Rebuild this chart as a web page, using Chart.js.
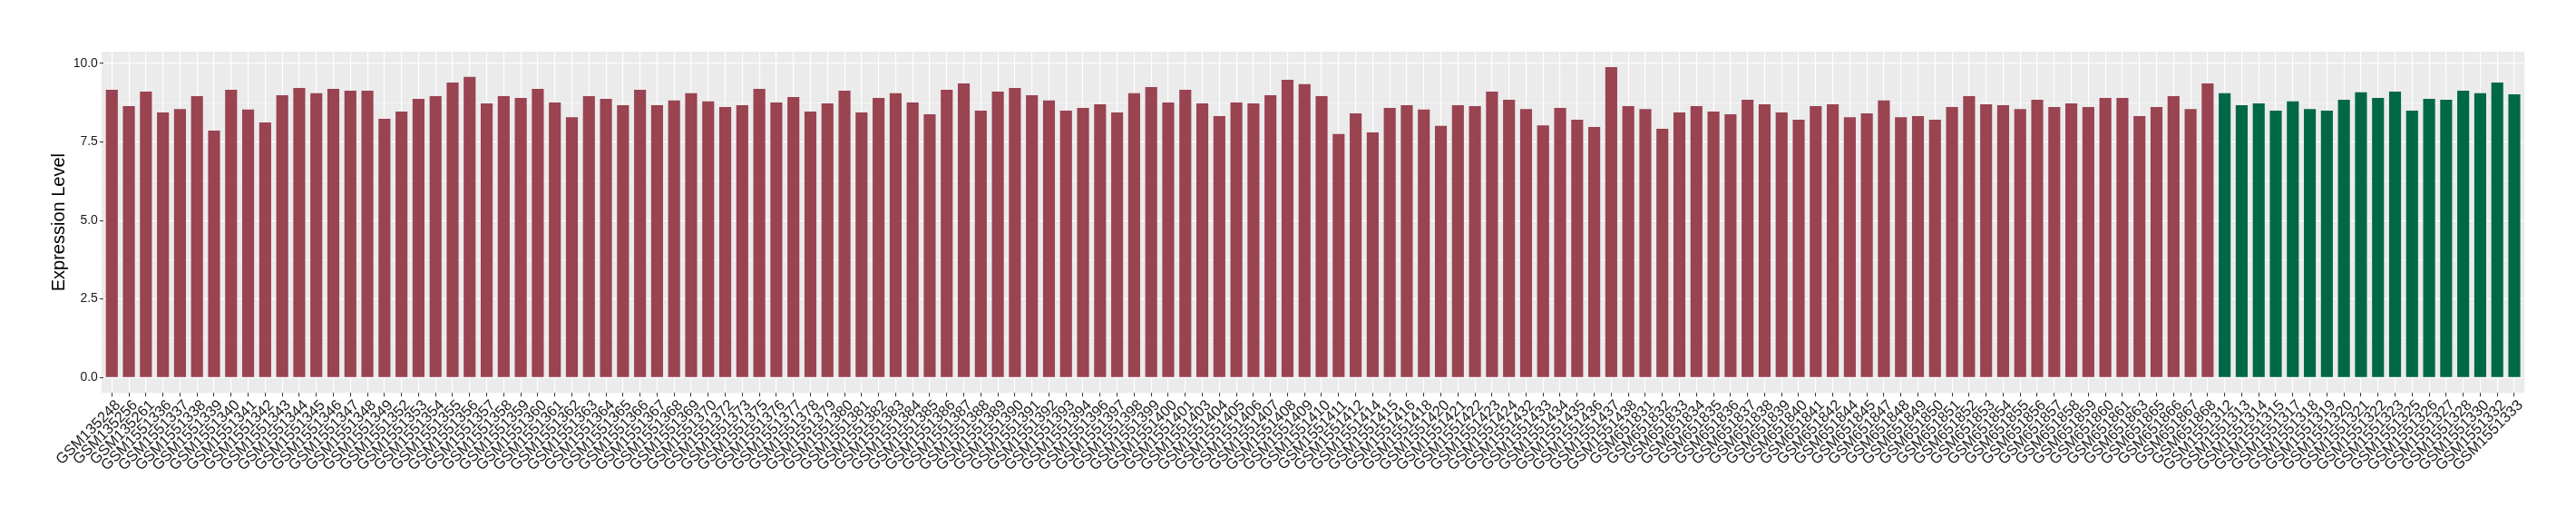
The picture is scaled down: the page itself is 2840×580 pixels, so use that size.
<!DOCTYPE html>
<html>
<head>
<meta charset="utf-8">
<script src="https://cdn.jsdelivr.net/npm/chart.js@4.4.1/dist/chart.umd.min.js"></script>
<style>
  html, body { margin: 0; padding: 0; background: #ffffff; }
  #wrap { width: 2840px; height: 580px; }
</style>
</head>
<body>
<div id="wrap"><canvas id="myChart" width="2840" height="580"></canvas></div>
<script>
/* Data */
var tumorLabels = [
  'GSM135248', 'GSM135256', 'GSM135261', 'GSM1551336', 'GSM1551337', 'GSM1551338', 'GSM1551339', 'GSM1551340',
  'GSM1551341', 'GSM1551342', 'GSM1551343', 'GSM1551344', 'GSM1551345', 'GSM1551346', 'GSM1551347', 'GSM1551348',
  'GSM1551349', 'GSM1551352', 'GSM1551353', 'GSM1551354', 'GSM1551355', 'GSM1551356', 'GSM1551357', 'GSM1551358',
  'GSM1551359', 'GSM1551360', 'GSM1551361', 'GSM1551362', 'GSM1551363', 'GSM1551364', 'GSM1551365', 'GSM1551366',
  'GSM1551367', 'GSM1551368', 'GSM1551369', 'GSM1551370', 'GSM1551372', 'GSM1551373', 'GSM1551375', 'GSM1551376',
  'GSM1551377', 'GSM1551378', 'GSM1551379', 'GSM1551380', 'GSM1551381', 'GSM1551382', 'GSM1551383', 'GSM1551384',
  'GSM1551385', 'GSM1551386', 'GSM1551387', 'GSM1551388', 'GSM1551389', 'GSM1551390', 'GSM1551391', 'GSM1551392',
  'GSM1551393', 'GSM1551394', 'GSM1551396', 'GSM1551397', 'GSM1551398', 'GSM1551399', 'GSM1551400', 'GSM1551401',
  'GSM1551403', 'GSM1551404', 'GSM1551405', 'GSM1551406', 'GSM1551407', 'GSM1551408', 'GSM1551409', 'GSM1551410',
  'GSM1551411', 'GSM1551412', 'GSM1551414', 'GSM1551415', 'GSM1551416', 'GSM1551418', 'GSM1551420', 'GSM1551421',
  'GSM1551422', 'GSM1551423', 'GSM1551424', 'GSM1551432', 'GSM1551433', 'GSM1551434', 'GSM1551435', 'GSM1551436',
  'GSM1551437', 'GSM1551438', 'GSM651831', 'GSM651832', 'GSM651833', 'GSM651834', 'GSM651835', 'GSM651836',
  'GSM651837', 'GSM651838', 'GSM651839', 'GSM651840', 'GSM651841', 'GSM651842', 'GSM651844', 'GSM651845',
  'GSM651847', 'GSM651848', 'GSM651849', 'GSM651850', 'GSM651851', 'GSM651852', 'GSM651853', 'GSM651854',
  'GSM651855', 'GSM651856', 'GSM651857', 'GSM651858', 'GSM651859', 'GSM651860', 'GSM651861', 'GSM651863',
  'GSM651865', 'GSM651866', 'GSM651867', 'GSM651868'
];
var tumorValues = [
  9.16, 8.64, 9.10, 8.44, 8.55, 8.96, 7.86, 9.16,
  8.53, 8.12, 8.99, 9.22, 9.05, 9.19, 9.13, 9.13,
  8.24, 8.47, 8.87, 8.96, 9.39, 9.57, 8.73, 8.96,
  8.90, 9.19, 8.76, 8.29, 8.96, 8.87, 8.67, 9.16,
  8.67, 8.82, 9.05, 8.79, 8.61, 8.67, 9.19, 8.76,
  8.93, 8.47, 8.73, 9.13, 8.44, 8.90, 9.05, 8.76,
  8.38, 9.16, 9.36, 8.50, 9.10, 9.22, 8.99, 8.82,
  8.50, 8.58, 8.70, 8.44, 9.05, 9.25, 8.76, 9.16,
  8.73, 8.32, 8.76, 8.73, 8.99, 9.48, 9.34, 8.96,
  7.75, 8.41, 7.80, 8.58, 8.67, 8.53, 8.01, 8.67,
  8.64, 9.10, 8.84, 8.55, 8.03, 8.58, 8.21, 7.98,
  9.88, 8.64, 8.55, 7.92, 8.44, 8.64, 8.47, 8.38,
  8.84, 8.70, 8.44, 8.21, 8.64, 8.70, 8.29, 8.41,
  8.82, 8.29, 8.32, 8.21, 8.61, 8.96, 8.70, 8.67,
  8.55, 8.84, 8.61, 8.73, 8.61, 8.90, 8.90, 8.32,
  8.61, 8.96, 8.55, 9.36
];
var normalLabels = [
  'GSM1551312', 'GSM1551313', 'GSM1551314', 'GSM1551315', 'GSM1551317', 'GSM1551318', 'GSM1551319', 'GSM1551320',
  'GSM1551321', 'GSM1551322', 'GSM1551323', 'GSM1551325', 'GSM1551326', 'GSM1551327', 'GSM1551328', 'GSM1551330',
  'GSM1551332', 'GSM1551333'
];
var normalValues = [
  9.05, 8.67, 8.73, 8.50, 8.79, 8.55, 8.50, 8.84,
  9.08, 8.90, 9.10, 8.50, 8.87, 8.84, 9.13, 9.05,
  9.39, 9.02
];
var yTicks = [0, 2.5, 5, 7.5, 10];
var yMinorTicks = [1.25, 3.75, 6.25, 8.75];

/* build the full category list, one dataset per group */
var labels = tumorLabels.concat(normalLabels);
var tumorData = tumorValues.concat(normalLabels.map(function () { return null; }));
var normalData = tumorLabels.map(function () { return null; }).concat(normalValues);

var allValues = tumorValues.concat(normalValues);
var yMax = Math.max.apply(null, allValues);
var yPad = yMax * 0.05;

const ctx = document.getElementById('myChart');

/* grey ggplot-like panel behind the grid */
var panelBg = {
    id: 'panelBg',
    beforeDraw: function (chart) {
        var a = chart.chartArea;
        var c = chart.ctx;
        var unit = (a.right - a.left) / labels.length;
        c.save();
        c.fillStyle = '#ebebeb';
        c.fillRect(a.left - unit * 0.1, a.top, (a.right - a.left) + unit * 0.2, a.bottom - a.top);
        c.restore();
    }
};

var allY = yTicks.concat(yMinorTicks).sort(function (a, b) { return a - b; });
function isMajor(v) { return yTicks.indexOf(v) !== -1; }

new Chart(ctx, {
    type: 'bar',
    data: {
        labels: labels,
        datasets: [{
            label: 'Tumor',
            data: tumorData,
            backgroundColor: '#9a4351',
            barPercentage: 0.7,
            categoryPercentage: 1,
            grouped: false
        }, {
            label: 'Normal',
            data: normalData,
            backgroundColor: '#016847',
            barPercentage: 0.7,
            categoryPercentage: 1,
            grouped: false
        }]
    },
    options: {
        responsive: false,
        animation: false,
        devicePixelRatio: 1,
        layout: {
            padding: { top: 57, right: 58.6, bottom: 0, left: 0 }
        },
        plugins: {
            legend: { display: false },
            tooltip: { enabled: false }
        },
        scales: {
            x: {
                offset: true,
                border: { display: false },
                grid: {
                    offset: false,
                    color: '#ffffff',
                    lineWidth: 1.1,
                    drawTicks: true,
                    tickLength: 4,
                    tickColor: '#333333',
                    tickWidth: 1
                },
                ticks: {
                    autoSkip: false,
                    minRotation: 45,
                    maxRotation: 45,
                    padding: 0,
                    labelOffset: 7,
                    color: '#1a1a1a',
                    font: { family: 'Liberation Sans, Arial, sans-serif', size: 16.5 }
                },
                afterFit: function (scale) { scale.height = 146.7; }
            },
            y: {
                min: -yPad,
                max: yMax + yPad,
                border: { display: false },
                afterBuildTicks: function (scale) {
                    scale.ticks = allY.map(function (v) { return { value: v }; });
                },
                grid: {
                    color: '#ffffff',
                    lineWidth: function (c) { return isMajor(c.tick.value) ? 1.1 : 0.55; },
                    drawTicks: true,
                    tickLength: 4,
                    tickColor: function (c) { return isMajor(c.tick.value) ? '#333333' : 'rgba(0,0,0,0)'; },
                    tickWidth: 1
                },
                ticks: {
                    padding: 2,
                    color: '#1a1a1a',
                    font: { family: 'Liberation Sans, Arial, sans-serif', size: 14 },
                    callback: function (v) { return isMajor(v) ? v.toFixed(1) : ''; }
                },
                title: {
                    display: true,
                    text: 'Expression Level',
                    color: '#000000',
                    font: { family: 'Liberation Sans, Arial, sans-serif', size: 20 },
                    padding: { top: 53, bottom: 0 }
                },
                afterFit: function (scale) { scale.width = 113.9; }
            }
        }
    },
    plugins: [panelBg]
});
</script>
</body>
</html>
